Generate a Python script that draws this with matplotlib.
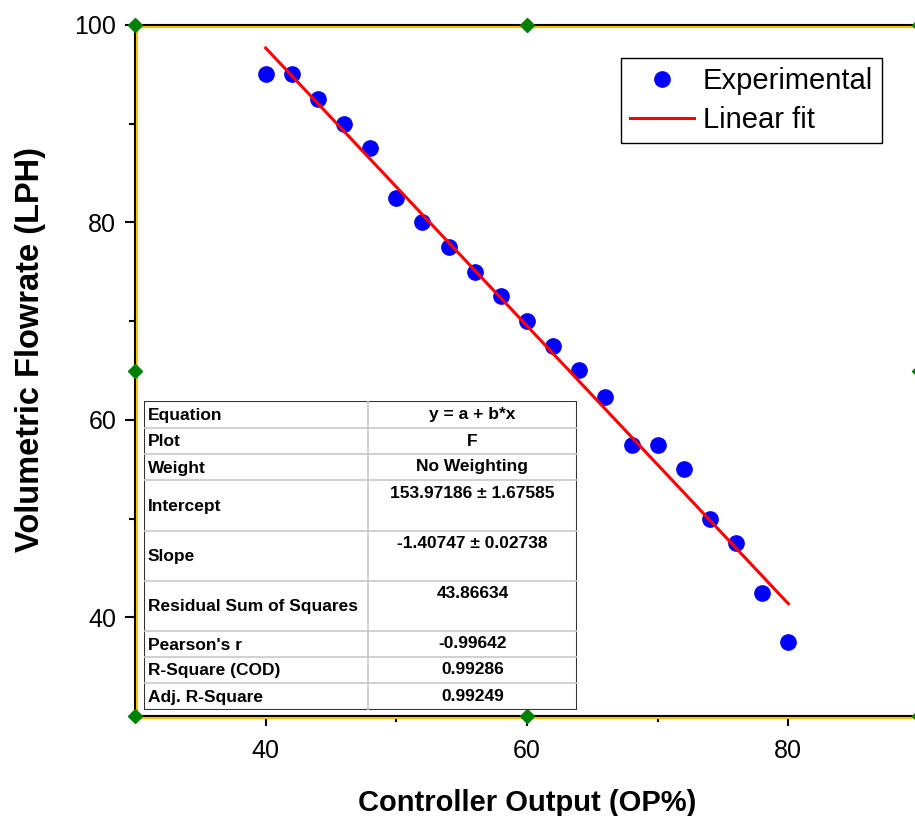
import numpy as np
import matplotlib
matplotlib.use('Agg')
import matplotlib.pyplot as plt
from matplotlib.patches import Rectangle
import matplotlib.transforms as mtransforms

plt.rcParams['font.family'] = ['Liberation Sans', 'DejaVu Sans']

# Data
op_percent = [40, 42, 44, 46, 48, 50, 52, 54, 56, 58, 60,
              62, 64, 66, 68, 70, 72, 74, 76, 78, 80]
flowrate = [95.0, 95.0, 92.5, 90.0, 87.5, 82.5, 80.0, 77.5, 75.0, 72.5, 70.0,
            67.5, 65.0, 62.3, 57.5, 57.5, 55.0, 50.0, 47.5, 42.5, 37.5]

# Fit statistics table
table_labels = ['Equation', 'Plot', 'Weight', 'Intercept', 'Slope',
                'Residual Sum of Squares', "Pearson's r", 'R-Square (COD)',
                'Adj. R-Square']
table_values = ['y = a + b*x', 'F', 'No Weighting', '153.97186 \u00b1 1.67585',
                '-1.40747 \u00b1 0.02738', '43.86634', '-0.99642', '0.99286',
                '0.99249']
fit_intercept = 153.97186
fit_slope = -1.40747

W, H = 915, 816
fig = plt.figure(figsize=(W / 100, H / 100), dpi=100)
ax = fig.add_axes([135 / W, 1 - 716 / H, (919 - 135) / W, (716 - 25) / H])

x = np.array(op_percent)
y = np.array(flowrate)
xfit = np.array([x.min(), x.max()])
ax.plot(x, y, 'o', color='#0000FF', markersize=11, label='Experimental', zorder=3)
ax.plot(xfit, fit_intercept + fit_slope * xfit, '-', color='#FF0000', lw=2.2,
        label='Linear fit', zorder=4)

ax.set_xlim(30, 90)
ax.set_ylim(30, 100)
ax.set_xticks([40, 60, 80])
ax.set_xticks([50, 70], minor=True)
ax.set_yticks([40, 60, 80, 100])
ax.set_yticks([50, 70, 90], minor=True)
ax.tick_params(which='major', direction='out', length=7.5, width=1.5,
               labelsize=18, pad=6, top=False, right=False)
ax.tick_params(axis='x', which='major', pad=9)
ax.tick_params(which='minor', direction='out', length=4.5, width=1.5,
               top=False, right=False)
for s in ax.spines.values():
    s.set_linewidth(1.5)
    s.set_color('black')

# yellow selection frame
off = mtransforms.offset_copy(ax.transAxes, fig=fig, x=1.5, y=-1.5, units='dots')
ax.add_patch(Rectangle((0, 0), 1, 1, fill=False, edgecolor='#FFC000', lw=1.5,
                       transform=off, clip_on=False, zorder=5))
# green handles
hx = [0, 0.5, 1, 0, 1, 0, 0.5, 1]
hy = [1, 1, 1, 0.5, 0.5, 0, 0, 0]
ax.plot(hx, hy, 'D', color='#008000', markersize=7, transform=ax.transAxes,
        clip_on=False, zorder=6)

ax.set_xlabel('Controller Output (OP%)', fontsize=21, fontweight='bold', labelpad=19)
ax.set_ylabel('Volumetric Flowrate (LPH)', fontsize=23.5, fontweight='bold')
ax.yaxis.set_label_coords((46 - 135) / 784, (716 - 349) / 691)

leg = ax.legend(loc='upper left',
                bbox_to_anchor=((621 - 135) / 784, 1 - (58 - 25) / 691),
                fontsize=21, frameon=True, fancybox=False, edgecolor='black',
                framealpha=1, borderpad=0.3, handlelength=2.2, handletextpad=0.3,
                labelspacing=0.38, borderaxespad=0)
leg.get_frame().set_linewidth(1.0)

# table in pixel coordinates
tax = fig.add_axes([144 / W, 1 - 710 / H, (577 - 144) / W, (710 - 401) / H])
tax.set_xlim(144, 577)
tax.set_ylim(710, 401)
tax.axis('off')
tax.add_patch(Rectangle((144, 401), 433, 309, facecolor='white', edgecolor='none', zorder=0))
rows = [401, 428, 454, 480, 531, 581, 631, 657, 683, 710]
col = 368
for r in rows[1:-1]:
    tax.plot([144, 577], [r, r], color='#c8c8c8', lw=1.2)
tax.plot([col, col], [401, 710], color='#c8c8c8', lw=1.2)
tax.add_patch(Rectangle((144, 401), 433, 309, fill=False, edgecolor='#333333', lw=1.5))
for i, (lab, val) in enumerate(zip(table_labels, table_values)):
    top, bot = rows[i], rows[i + 1]
    tall = (bot - top) > 30
    tax.text(148, (top + bot) / 2 + 1, lab, fontsize=12.5, fontweight='bold',
             ha='left', va='center')
    vy = top + 13 if tall else (top + bot) / 2
    tax.text((col + 577) / 2, vy, val, fontsize=12.5, fontweight='bold',
             ha='center', va='center')

fig.savefig('out.png', dpi=100)
